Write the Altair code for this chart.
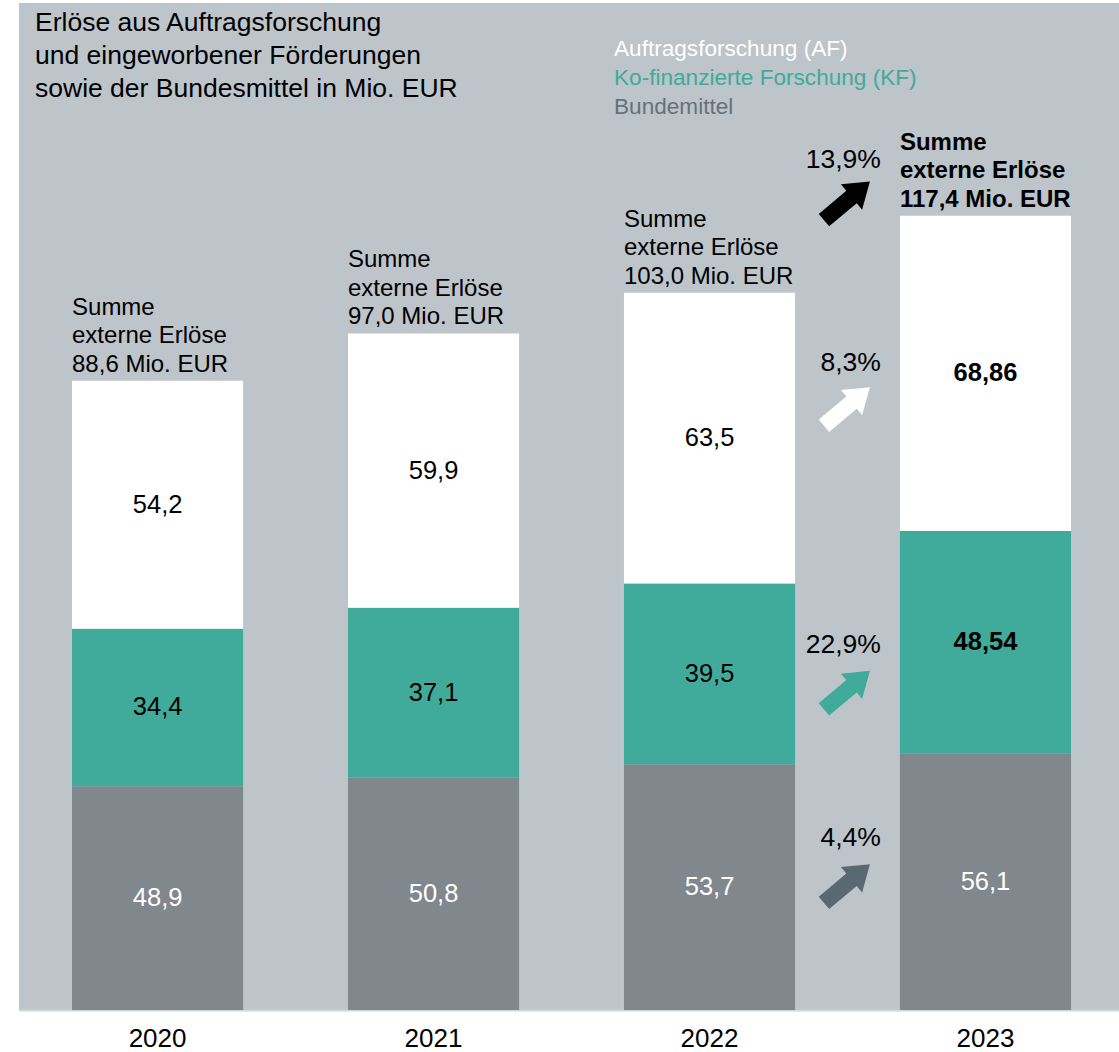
import altair as alt
import pandas as pd

# ---------------- data ----------------
years = ["2020", "2021", "2022", "2023"]
af = [54.2, 59.9, 63.5, 68.86]      # Auftragsforschung (AF)
kf = [34.4, 37.1, 39.5, 48.54]      # Ko-finanzierte Forschung (KF)
bund = [48.9, 50.8, 53.7, 56.1]     # Bundemittel

growth_keys = ["Summe", "AF", "KF", "Bund"]
growth_labels = ["13,9%", "8,3%", "22,9%", "4,4%"]

title_lines = ["Erlöse aus Auftragsforschung",
               "und eingeworbener Förderungen",
               "sowie der Bundesmittel in Mio. EUR"]
legend_lines = ["Auftragsforschung (AF)",
                "Ko-finanzierte Forschung (KF)",
                "Bundemittel"]

# ---------------- styles ----------------
FONT = "Liberation Sans"
BG = "#BDC4CA"
TEAL = "#40AB9B"
GRAY = "#80878D"
DARK = "#5A6971"
LEG_GRAY = "#66727A"

series_domain = ["Bund", "KF", "AF"]
series_range = [GRAY, TEAL, "#FFFFFF"]

# ---------------- tables ----------------
rows = []
for i, y in enumerate(years):
    s0 = 0.0
    for key, vals in (("Bund", bund), ("KF", kf), ("AF", af)):
        v = vals[i]
        rows.append({
            "year": y, "series": key, "start": s0, "end": s0 + v,
            "mid": s0 + v / 2, "label": str(v).replace(".", ","),
            "bold": int(y == years[-1] and key != "Bund"),
        })
        s0 += v
seg = pd.DataFrame(rows)

sums = pd.DataFrame({
    "year": years,
    "top": [a + k + b for a, k, b in zip(af, kf, bund)],
    "label": ["Summe\nexterne Erlöse\n" + f"{a + k:.1f}".replace(".", ",") + " Mio. EUR"
              for a, k in zip(af, kf)],
})

last = seg[seg["year"] == years[-1]].set_index("series")
anchor = {"Summe": sums["top"].iloc[-1], "AF": last.loc["AF", "mid"],
          "KF": last.loc["KF", "mid"], "Bund": last.loc["Bund", "mid"]}
growth = pd.DataFrame({
    "year": [years[-1]] * 4,
    "key": growth_keys,
    "pct": growth_labels,
    "anchor": [anchor[k] for k in growth_keys],
})

# arrow styling: colour, arrow y offset (px), label dy (px)
arrow_style = {
    "Summe": ("#000000", -15, -56),
    "AF": ("#FFFFFF", 33, -10),
    "KF": (TEAL, 48, 3),
    "Bund": (DARK, 2, -44),
}
ARROW = "M -1 -0.27 L 0.2 -0.27 L 0.2 -0.55 L 1 0 L 0.2 0.55 L 0.2 0.27 L -1 0.27 Z"

xscale = alt.Scale(domain=years, paddingInner=0.38, paddingOuter=0.183, align=0.525)
yscale = alt.Scale(domain=[0, 220], nice=False, zero=True)

X = alt.X("year:N", scale=xscale, sort=years,
          axis=alt.Axis(title=None, labelAngle=0, labelFontSize=26, labelFont=FONT,
                        labelColor="#000000", ticks=False, domainColor="#D2D4D6",
                        domainWidth=2, labelPadding=15, labelBaseline="top"))
Xs = alt.X("year:N", scale=xscale, sort=years, bandPosition=0)
Ymid = alt.Y("mid:Q", scale=yscale)

bars = alt.Chart(seg).mark_bar().encode(
    x=X,
    y=alt.Y("start:Q", scale=yscale, axis=None),
    y2="end:Q",
    color=alt.Color("series:N", scale=alt.Scale(domain=series_domain, range=series_range),
                    legend=None),
)

lab_white = alt.Chart(seg).transform_filter("datum.series == 'Bund'").mark_text(
    font=FONT, fontSize=25.5, baseline="middle", align="center", color="#FFFFFF"
).encode(x=X, y=Ymid, text="label:N")
lab_black = alt.Chart(seg).transform_filter(
    "datum.series != 'Bund' && datum.bold == 0").mark_text(
    font=FONT, fontSize=25.5, baseline="middle", align="center", color="#000000"
).encode(x=X, y=Ymid, text="label:N")
lab_bold = alt.Chart(seg).transform_filter("datum.bold == 1").mark_text(
    font=FONT, fontSize=25.5, fontWeight="bold", baseline="middle", align="center",
    color="#000000"
).encode(x=X, y=Ymid, text="label:N")

sum_normal = alt.Chart(sums).transform_filter(f"datum.year != '{years[-1]}'").mark_text(
    font=FONT, fontSize=24, align="left", baseline="alphabetic", lineBreak="\n",
    lineHeight=28.5, dy=-66, color="#000000"
).encode(x=Xs, y=alt.Y("top:Q", scale=yscale), text="label:N")
sum_bold = alt.Chart(sums).transform_filter(f"datum.year == '{years[-1]}'").mark_text(
    font=FONT, fontSize=24, fontWeight="bold", align="left", baseline="alphabetic",
    lineBreak="\n", lineHeight=28.5, dy=-66, color="#000000"
).encode(x=Xs, y=alt.Y("top:Q", scale=yscale), text="label:N")

layers = [bars, lab_white, lab_black, lab_bold, sum_normal, sum_bold]

for key in growth_keys:
    col, yoff, tdy = arrow_style[key]
    sub = alt.Chart(growth).transform_filter(f"datum.key == '{key}'")
    layers.append(sub.mark_point(
        shape=ARROW, size=3600, angle=320, filled=True, opacity=1, color=col,
        strokeWidth=0, xOffset=-53, yOffset=yoff
    ).encode(x=Xs, y=alt.Y("anchor:Q", scale=yscale)))
    layers.append(sub.mark_text(
        font=FONT, fontSize=26.5, align="right", baseline="middle", dx=-19, dy=tdy,
        color="#000000"
    ).encode(x=Xs, y=alt.Y("anchor:Q", scale=yscale), text="pct:N"))

title = alt.Chart(pd.DataFrame({"t": ["\n".join(title_lines)]})).mark_text(
    font=FONT, fontSize=26.5, align="left", baseline="alphabetic", lineBreak="\n",
    lineHeight=33, color="#000000"
).encode(x=alt.value(16), y=alt.value(28), text="t:N")
layers.append(title)

for i, (line, col) in enumerate(zip(legend_lines, ["#FFFFFF", TEAL, LEG_GRAY])):
    layers.append(alt.Chart(pd.DataFrame({"t": [line]})).mark_text(
        font=FONT, fontSize=22.6, align="left", baseline="alphabetic", color=col
    ).encode(x=alt.value(595), y=alt.value(53 + 28.8 * i), text="t:N"))

chart = alt.layer(*layers).properties(
    width=1100, height=1007,
    padding={"left": 19, "top": 3, "right": 0, "bottom": 42},
    autosize=alt.AutoSizeParams(type="none"),
    background="#FFFFFF",
).configure_view(fill=BG, strokeWidth=0)

chart.save("out.html", embed_options={"renderer": "svg", "actions": False})
